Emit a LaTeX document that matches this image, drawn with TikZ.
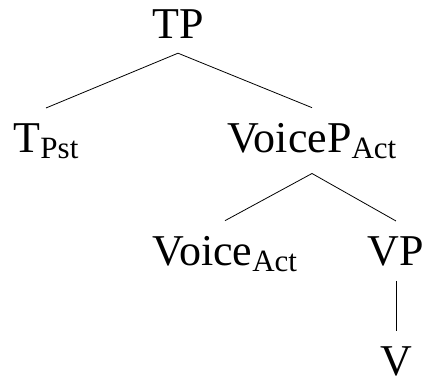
\documentclass[tikz,border=0pt]{standalone}
\usepackage{fontspec}
\setmainfont{Liberation Serif}
\newcommand{\lsub}[1]{\raisebox{-6pt}{\fontsize{31}{31}\selectfont #1}}

\begin{document}
\begin{tikzpicture}[x=1pt,y=-1pt,
    syn/.style={anchor=base,inner xsep=0pt,inner ysep=15pt,font=\fontsize{44}{52}\selectfont},
    branch/.style={line width=0.8pt}]
    \useasboundingbox (0,0) rectangle (429,380);
    \node[syn] (tp)     at (178,38)  {TP};
    \node[syn] (tpst)   at (46,152)  {T\lsub{Pst}};
    \node[syn] (voicep) at (312,152) {VoiceP\lsub{Act}};
    \node[syn] (voice)  at (225,265) {Voice\lsub{Act}};
    \node[syn] (vp)     at (396,265) {VP};
    \node[syn] (v)      at (396,375) {V};
    \draw[branch] (tp.south) -- (tpst.north);
    \draw[branch] (tp.south) -- (voicep.north);
    \draw[branch] (voicep.south) -- (voice.north);
    \draw[branch] (voicep.south) -- (vp.north);
    \draw[branch] (vp.south) -- (v.north);
\end{tikzpicture}
\end{document}
